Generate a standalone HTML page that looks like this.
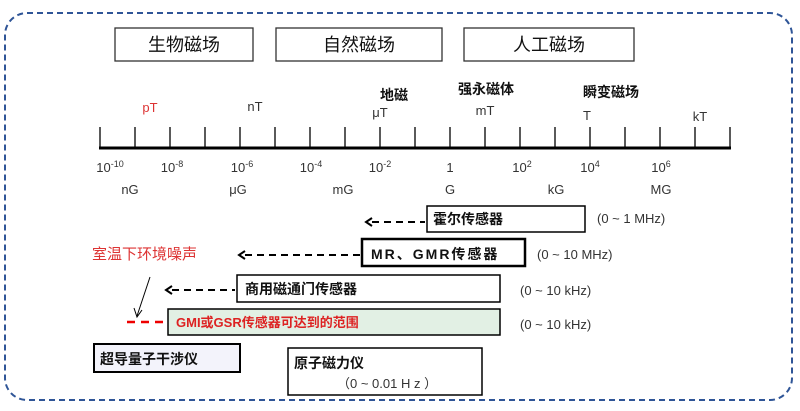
<!DOCTYPE html>
<html><head><meta charset="utf-8"><style>
html,body{margin:0;padding:0;background:#fff;}
svg text{font-family:"Liberation Sans","Noto Sans CJK SC",sans-serif;}
</style></head><body>
<svg width="800" height="406" viewBox="0 0 800 406" xmlns="http://www.w3.org/2000/svg">
<rect x="5" y="13" width="787" height="387" rx="22" fill="none" stroke="#2f5597" stroke-width="2" stroke-dasharray="6,4"/>
<g fill="#fff" stroke="#333" stroke-width="1.3">
<rect x="115" y="28" width="138" height="33"/>
<rect x="276" y="28" width="166" height="33"/>
<rect x="464" y="28" width="170" height="33"/>
</g>
<g font-size="18" text-anchor="middle" fill="#111">
<text x="184" y="51">生物磁场</text>
<text x="359" y="51">自然磁场</text>
<text x="549" y="51">人工磁场</text>
</g>
<g stroke="#000" stroke-width="1.3">
<line x1="99" y1="148" x2="731" y2="148" stroke-width="3"/>
<line x1="100" y1="127" x2="100" y2="149"/><line x1="135" y1="127" x2="135" y2="149"/><line x1="170" y1="127" x2="170" y2="149"/><line x1="205" y1="127" x2="205" y2="149"/><line x1="240" y1="127" x2="240" y2="149"/><line x1="275" y1="127" x2="275" y2="149"/><line x1="310" y1="127" x2="310" y2="149"/><line x1="345" y1="127" x2="345" y2="149"/><line x1="380" y1="127" x2="380" y2="149"/><line x1="415" y1="127" x2="415" y2="149"/><line x1="450" y1="127" x2="450" y2="149"/><line x1="485" y1="127" x2="485" y2="149"/><line x1="520" y1="127" x2="520" y2="149"/><line x1="555" y1="127" x2="555" y2="149"/><line x1="590" y1="127" x2="590" y2="149"/><line x1="625" y1="127" x2="625" y2="149"/><line x1="660" y1="127" x2="660" y2="149"/><line x1="695" y1="127" x2="695" y2="149"/><line x1="730" y1="127" x2="730" y2="149"/>
</g>
<g font-size="13" text-anchor="middle" fill="#333">
<text x="150" y="112" fill="#d33">pT</text>
<text x="255" y="111">nT</text>
<text x="380" y="117">μT</text>
<text x="485" y="115">mT</text>
<text x="587" y="120">T</text>
<text x="700" y="121">kT</text>
<text x="110" y="172">10<tspan font-size="9" dy="-5">-10</tspan></text>
<text x="172" y="172">10<tspan font-size="9" dy="-5">-8</tspan></text>
<text x="242" y="172">10<tspan font-size="9" dy="-5">-6</tspan></text>
<text x="311" y="172">10<tspan font-size="9" dy="-5">-4</tspan></text>
<text x="380" y="172">10<tspan font-size="9" dy="-5">-2</tspan></text>
<text x="450" y="172">1</text>
<text x="522" y="172">10<tspan font-size="9" dy="-5">2</tspan></text>
<text x="590" y="172">10<tspan font-size="9" dy="-5">4</tspan></text>
<text x="661" y="172">10<tspan font-size="9" dy="-5">6</tspan></text>
<text x="130" y="194">nG</text>
<text x="238" y="194">μG</text>
<text x="343" y="194">mG</text>
<text x="450" y="194">G</text>
<text x="556" y="194">kG</text>
<text x="661" y="194">MG</text>
</g>
<g font-size="14" font-weight="bold" text-anchor="middle" fill="#111">
<text x="394" y="100">地磁</text>
<text x="486" y="94">强永磁体</text>
<text x="611" y="97">瞬变磁场</text>
</g>
<g stroke="#000" fill="none">
<rect x="427" y="206" width="158" height="26" stroke-width="1.5"/>
<rect x="362" y="239" width="163" height="27" stroke-width="2.5"/>
<rect x="237" y="275" width="263" height="27" stroke-width="1.5"/>
<rect x="168" y="309" width="332" height="26" stroke-width="1.5" fill="#e2f0e4"/>
<rect x="94" y="344" width="146" height="28" stroke-width="2" fill="#f3f3fb"/>
<rect x="288" y="348" width="194" height="47" stroke-width="1.5"/>
</g>
<g stroke="#000" stroke-width="2" stroke-dasharray="7,5" fill="none">
<line x1="372" y1="222" x2="425" y2="222"/>
<line x1="245" y1="255" x2="360" y2="255"/>
<line x1="172" y1="290" x2="235" y2="290"/>
</g>
<g stroke="#000" stroke-width="2" fill="none">
<polyline points="372,218 366,222 372,226"/>
<polyline points="245,251 239,255 245,259"/>
<polyline points="172,286 166,290 172,294"/>
</g>
<line x1="127" y1="322" x2="168" y2="322" stroke="#e00" stroke-width="2.5" stroke-dasharray="8,6"/>
<line x1="150" y1="277" x2="137" y2="316" stroke="#000" stroke-width="1"/>
<polyline points="134,308 137,317 142,310" stroke="#000" fill="none" stroke-width="1"/>
<text x="92" y="259" font-size="15" fill="#d33">室温下环境噪声</text>
<g font-size="14" font-weight="bold" fill="#111">
<text x="433" y="224">霍尔传感器</text>
<text x="371" y="259" letter-spacing="2">MR、GMR传感器</text>
<text x="245" y="294">商用磁通门传感器</text>
<text x="176" y="327" fill="#d22" font-size="13">GMI或GSR传感器可达到的范围</text>
<text x="100" y="364">超导量子干涉仪</text>
<text x="294" y="368">原子磁力仪</text>
</g>
<g font-size="13" fill="#333">
<text x="597" y="223">(0 ~ 1 MHz)</text>
<text x="537" y="259">(0 ~ 10 MHz)</text>
<text x="520" y="295">(0 ~ 10 kHz)</text>
<text x="520" y="329">(0 ~ 10 kHz)</text>
<text x="337" y="388">（0 ~ 0.01 H z ）</text>
</g>
</svg>
</body></html>
